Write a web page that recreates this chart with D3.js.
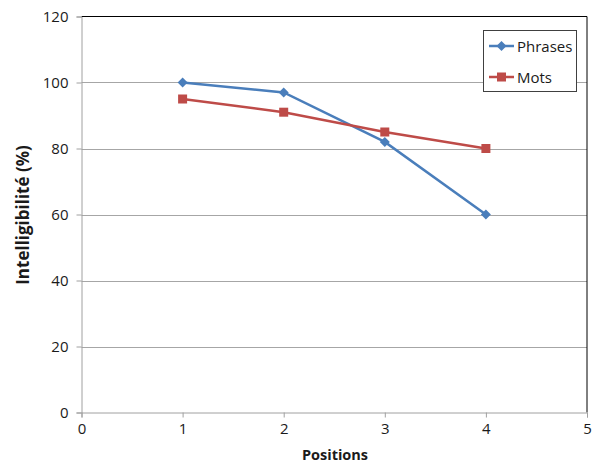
<!DOCTYPE html>
<html>
<head>
<meta charset="utf-8">
<script src="https://cdn.jsdelivr.net/npm/d3@7"></script>
<style>
  body { margin: 0; background: #fff; }
  text { font-family: "Open Sans", "Noto Sans", sans-serif; fill: #1a1a1a; }
</style>
</head>
<body>
<svg id="chart" width="601" height="463"></svg>
<script>
// Data
const positions = [1, 2, 3, 4];
const phrases = [100, 97, 82, 60];
const mots = [95, 91, 85, 80];
const xTicks = [0, 1, 2, 3, 4, 5];
const yTicks = [0, 20, 40, 60, 80, 100, 120];
const seriesNames = ['Phrases', 'Mots'];

const svg = d3.select('#chart');
const plotL = 81.5, plotR = 587, plotT = 16.5, plotB = 412.5;

const x = d3.scaleLinear().domain([0, 5]).range([plotL, plotR]);
const y = d3.scaleLinear().domain([0, 120]).range([plotB, plotT]);

// gridlines
svg.append('g')
  .selectAll('line')
  .data(yTicks.filter(d => d > 0 && d < 120))
  .join('line')
  .attr('x1', plotL).attr('x2', plotR)
  .attr('y1', d => Math.round(y(d)) + 0.5).attr('y2', d => Math.round(y(d)) + 0.5)
  .attr('stroke', '#a6a6a6').attr('stroke-width', 1);

// plot border top + right (black)
svg.append('path')
  .attr('d', `M${plotL},${plotT}H${plotR}V${plotB}`)
  .attr('fill', 'none').attr('stroke', '#000').attr('stroke-width', 1);

// axes
const xAxis = d3.axisBottom(x).tickValues(xTicks).tickSize(5).tickPadding(6).tickFormat(d3.format('d'));
const yAxis = d3.axisLeft(y).tickValues(yTicks).tickSize(5).tickPadding(6).tickFormat(d3.format('d'));

const gx = svg.append('g').attr('transform', `translate(0,${plotB})`).call(xAxis);
const gy = svg.append('g').attr('transform', `translate(${plotL},0)`).call(yAxis);
[gx, gy].forEach(g => {
  g.select('.domain').attr('stroke', '#a0a0a0');
  g.selectAll('.tick line').attr('stroke', '#a0a0a0');
  g.selectAll('.tick text').attr('font-size', 15).attr('fill', '#1a1a1a')
    .attr('font-family', '"Open Sans", "Noto Sans", sans-serif');
});
gy.selectAll('.tick text').attr('dx', -2);

// axis titles
svg.append('text')
  .attr('x', 335).attr('y', 460)
  .attr('text-anchor', 'middle')
  .attr('font-size', 14.5).attr('font-weight', 'bold')
  .text('Positions');

svg.append('text')
  .attr('transform', 'translate(28.5,215) rotate(-90)')
  .attr('text-anchor', 'middle')
  .attr('font-size', 17).attr('font-weight', 'bold')
  .text('Intelligibilité (%)');

// series
const colors = ['#4a7ebb', '#be4b48'];
const line = d3.line().x((d, i) => x(positions[i])).y(d => y(d));
const diamond = 'M0,-5L5,0L0,5L-5,0Z';

[phrases, mots].forEach((vals, s) => {
  svg.append('path')
    .datum(vals)
    .attr('d', line)
    .attr('fill', 'none')
    .attr('stroke', colors[s])
    .attr('stroke-width', 2.5);
});

// markers
svg.append('g').selectAll('path')
  .data(phrases)
  .join('path')
  .attr('transform', (d, i) => `translate(${x(positions[i])},${y(d)})`)
  .attr('d', diamond)
  .attr('fill', colors[0]);

svg.append('g').selectAll('rect')
  .data(mots)
  .join('rect')
  .attr('x', (d, i) => x(positions[i]) - 4.5)
  .attr('y', d => y(d) - 4.5)
  .attr('width', 9).attr('height', 9)
  .attr('fill', colors[1]);

// legend
const lg = svg.append('g');
lg.append('rect')
  .attr('x', 483.5).attr('y', 30.5).attr('width', 93).attr('height', 61)
  .attr('fill', '#fff').attr('stroke', '#404040').attr('stroke-width', 1);

seriesNames.forEach((name, s) => {
  const ly = s === 0 ? 46 : 77;
  lg.append('line')
    .attr('x1', 489).attr('x2', 514).attr('y1', ly).attr('y2', ly)
    .attr('stroke', colors[s]).attr('stroke-width', 2.5);
  if (s === 0) {
    lg.append('path')
      .attr('transform', `translate(501.5,${ly})`)
      .attr('d', diamond)
      .attr('fill', colors[s]);
  } else {
    lg.append('rect')
      .attr('x', 497).attr('y', ly - 4.5).attr('width', 9).attr('height', 9)
      .attr('fill', colors[s]);
  }
  lg.append('text')
    .attr('x', 517).attr('y', ly + 5.5)
    .attr('font-size', 15)
    .text(name);
});
</script>
</body>
</html>
